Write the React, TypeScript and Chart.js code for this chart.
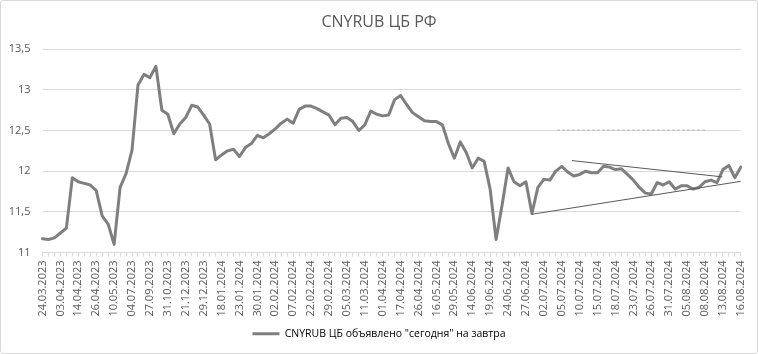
import { useEffect, useRef } from "react";
import { Chart, registerables } from "chart.js";

Chart.register(...registerables);

const TITLE = "CNYRUB ЦБ РФ";
const SERIES_NAME = 'CNYRUB ЦБ объявлено "сегодня" на завтра';

const dates: string[] = [
  "24.03.2023", "28.03.2023", "31.03.2023", "03.04.2023", "06.04.2023", "11.04.2023",
  "14.04.2023", "18.04.2023", "21.04.2023", "26.04.2023", "28.04.2023", "04.05.2023",
  "10.05.2023", "17.05.2023", "20.06.2023", "04.07.2023", "03.08.2023", "30.08.2023",
  "27.09.2023", "05.10.2023", "18.10.2023", "31.10.2023", "15.11.2023", "06.12.2023",
  "21.12.2023", "23.12.2023", "27.12.2023", "29.12.2023", "10.01.2024", "13.01.2024",
  "18.01.2024", "19.01.2024", "20.01.2024", "23.01.2024", "25.01.2024", "27.01.2024",
  "30.01.2024", "31.01.2024", "01.02.2024", "02.02.2024", "03.02.2024", "06.02.2024",
  "07.02.2024", "09.02.2024", "16.02.2024", "22.02.2024", "27.02.2024", "28.02.2024",
  "29.02.2024", "01.03.2024", "02.03.2024", "05.03.2024", "06.03.2024", "07.03.2024",
  "11.03.2024", "15.03.2024", "22.03.2024", "01.04.2024", "05.04.2024", "12.04.2024",
  "17.04.2024", "20.04.2024", "24.04.2024", "26.04.2024", "03.05.2024", "08.05.2024",
  "16.05.2024", "22.05.2024", "25.05.2024", "29.05.2024", "31.05.2024", "07.06.2024",
  "14.06.2024", "15.06.2024", "18.06.2024", "19.06.2024", "20.06.2024", "21.06.2024",
  "24.06.2024", "25.06.2024", "26.06.2024", "27.06.2024", "28.06.2024", "29.06.2024",
  "02.07.2024", "03.07.2024", "04.07.2024", "05.07.2024", "06.07.2024", "09.07.2024",
  "10.07.2024", "11.07.2024", "12.07.2024", "15.07.2024", "16.07.2024", "17.07.2024",
  "18.07.2024", "19.07.2024", "20.07.2024", "23.07.2024", "24.07.2024", "25.07.2024",
  "26.07.2024", "27.07.2024", "30.07.2024", "31.07.2024", "01.08.2024", "02.08.2024",
  "05.08.2024", "06.08.2024", "07.08.2024", "08.08.2024", "09.08.2024", "10.08.2024",
  "13.08.2024", "14.08.2024", "15.08.2024", "16.08.2024",
];

const rates: number[] = [
  11.17, 11.16, 11.18, 11.24, 11.3, 11.92, 11.87, 11.85, 11.83, 11.76,
  11.45, 11.35, 11.1, 11.8, 11.97, 12.26, 13.06, 13.19, 13.15, 13.29,
  12.75, 12.7, 12.46, 12.58, 12.66, 12.81, 12.79, 12.69, 12.58, 12.14,
  12.2, 12.25, 12.27, 12.18, 12.29, 12.34, 12.44, 12.41, 12.46, 12.52,
  12.59, 12.64, 12.59, 12.76, 12.8, 12.8, 12.77, 12.73, 12.69, 12.57,
  12.65, 12.66, 12.61, 12.5, 12.57, 12.74, 12.7, 12.68, 12.69, 12.88,
  12.93, 12.82, 12.72, 12.67, 12.62, 12.61, 12.61, 12.57, 12.34, 12.16,
  12.36, 12.23, 12.04, 12.16, 12.12, 11.78, 11.16, 11.58, 12.04, 11.87,
  11.82, 11.87, 11.48, 11.8, 11.9, 11.89, 12.0, 12.06, 11.99, 11.94,
  11.96, 12.0, 11.98, 11.98, 12.06, 12.05, 12.02, 12.03, 11.96, 11.89,
  11.8, 11.73, 11.72, 11.86, 11.83, 11.87, 11.78, 11.82, 11.82, 11.78,
  11.8, 11.87, 11.89, 11.86, 12.02, 12.07, 11.92, 12.05,
];

const Y_MIN = 11;
const Y_MAX = 13.5;
const Y_STEP = 0.5;
const LABEL_EVERY = 3;

// Hand-drawn lines (category index, value)
const supportLine = [
  { x: 82, y: 11.47 },
  { x: 117, y: 11.875 },
];
const resistanceLine = [
  { x: 88.7, y: 12.13 },
  { x: 113.9, y: 11.93 },
];
const levelLine = [
  { x: 86.2, y: 12.505 },
  { x: 111.3, y: 12.505 },
];

const FONT = "'Open Sans', 'Noto Sans', sans-serif";

export default function App() {
  const ref = useRef<HTMLCanvasElement>(null);

  useEffect(() => {
    document.body.style.margin = "0";
    Chart.defaults.font.family = FONT;
    const lastIndex = dates.length - 1;
    const chart = new Chart(ref.current as HTMLCanvasElement, {
      type: "line",
      data: {
        labels: dates,
        datasets: [
          {
            label: SERIES_NAME,
            data: rates,
            borderColor: "#7f7f7f",
            backgroundColor: "#7f7f7f",
            borderWidth: 3,
            pointRadius: 0,
            tension: 0,
            borderJoinStyle: "round",
            borderCapStyle: "round",
            xAxisID: "x",
            yAxisID: "y",
            order: 1,
          },
          {
            label: "support",
            data: supportLine,
            borderColor: "#595959",
            borderWidth: 1,
            pointRadius: 0,
            xAxisID: "xl",
            yAxisID: "y",
            order: 0,
          },
          {
            label: "resistance",
            data: resistanceLine,
            borderColor: "#595959",
            borderWidth: 1,
            pointRadius: 0,
            xAxisID: "xl",
            yAxisID: "y",
            order: 0,
          },
          {
            label: "level",
            data: levelLine,
            borderColor: "#a9b9d0",
            borderWidth: 1,
            borderDash: [3, 2],
            pointRadius: 0,
            xAxisID: "xl",
            yAxisID: "y",
            order: 0,
          },
        ],
      },
      options: {
        responsive: false,
        animation: false,
        layout: { padding: { left: 0, right: 0, top: 0, bottom: 5 } },
        plugins: {
          title: {
            display: true,
            text: TITLE,
            color: "#595959",
            font: { size: 16, weight: "normal", family: FONT },
            padding: { top: 13, bottom: 17 },
          },
          legend: {
            position: "bottom",
            labels: {
              boxWidth: 27,
              boxHeight: 3,
              color: "#595959",
              font: { size: 10.5, family: FONT },
              generateLabels: () => [
                {
                  text: SERIES_NAME,
                  fillStyle: "#7f7f7f",
                  strokeStyle: "#7f7f7f",
                  lineWidth: 0,
                  hidden: false,
                  datasetIndex: 0,
                },
              ],
            },
          },
          tooltip: { enabled: false },
        },
        scales: {
          x: {
            type: "category",
            offset: false,
            grid: {
              display: true,
              drawOnChartArea: false,
              drawTicks: true,
              tickLength: 4,
              color: "#d9d9d9",
            },
            border: { display: true, color: "#d9d9d9" },
            ticks: {
              autoSkip: false,
              minRotation: 90,
              maxRotation: 90,
              padding: 4,
              color: "#595959",
              font: { size: 11, family: FONT },
              callback: (_v: any, i: number) => (i % LABEL_EVERY === 0 ? dates[i] : ""),
            },
            afterFit: (s: any) => {
              s.height = 66;
            },
          },
          xl: {
            type: "linear",
            display: false,
            min: 0,
            max: lastIndex,
          },
          y: {
            position: "left",
            min: Y_MIN,
            max: Y_MAX,
            ticks: {
              stepSize: Y_STEP,
              padding: 12,
              color: "#595959",
              font: { size: 11, family: FONT },
              callback: (v: any) => String(v).replace(".", ","),
            },
            grid: { color: "#d9d9d9", drawTicks: false },
            border: { display: false },
            afterFit: (s: any) => {
              s.width = 42.5;
            },
          },
          yr: {
            position: "right",
            min: Y_MIN,
            max: Y_MAX,
            ticks: { display: false },
            grid: { display: false, drawTicks: false },
            border: { display: false },
            afterFit: (s: any) => {
              s.width = 15;
            },
          },
        },
      },
    } as any);
    return () => chart.destroy();
  }, []);

  return (
    <div style={{ position: "fixed", left: 0, top: 0, width: 758, height: 354, background: "#fff" }}>
      <canvas ref={ref} width={758} height={354} style={{ display: "block" }} />
      <div
        style={{
          position: "absolute",
          inset: 0,
          border: "1px solid #d9d9d9",
          borderRadius: 3,
          pointerEvents: "none",
        }}
      />
    </div>
  );
}
